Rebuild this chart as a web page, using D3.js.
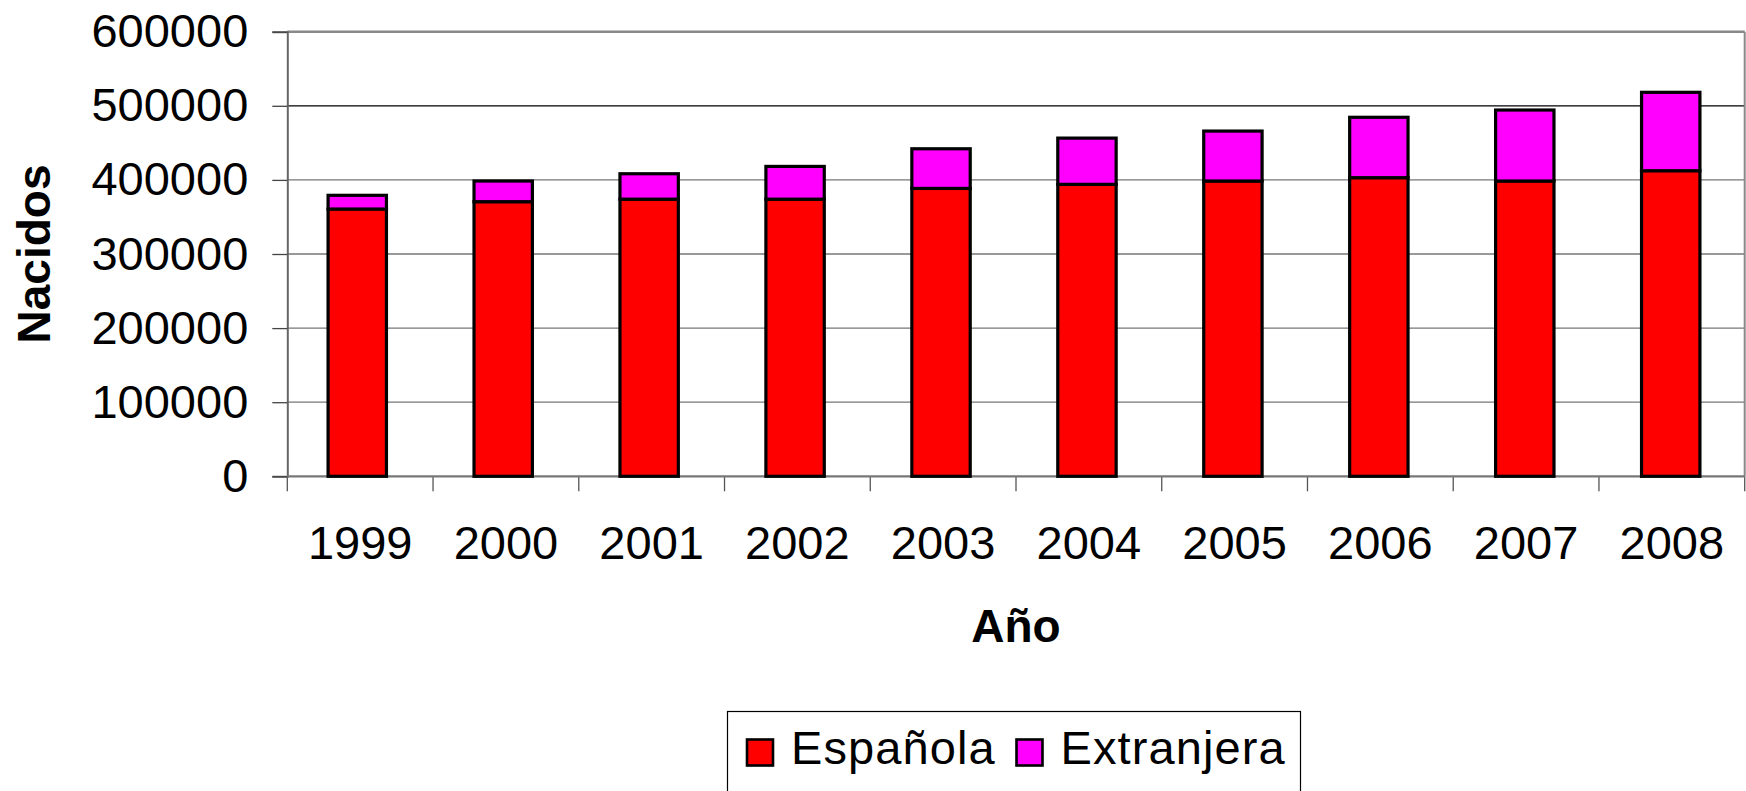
<!DOCTYPE html>
<html>
<head>
<meta charset="utf-8">
<script src="https://cdn.jsdelivr.net/npm/d3@7"></script>
<style>
  html, body { margin: 0; padding: 0; background: #fff; overflow: hidden; }
  text { font-family: "Liberation Sans", Arial, sans-serif; fill: #000; }
</style>
</head>
<body>
<svg id="chart" width="1746" height="791"></svg>
<script>
const categories = ["1999", "2000", "2001", "2002", "2003", "2004", "2005", "2006", "2007", "2008"];
const espanola   = [360700, 370600, 374000, 374000, 388500, 394000, 398500, 403000, 398500, 412400];
const extranjera = [18500, 27900, 34300, 44200, 53500, 62400, 67400, 81500, 95800, 105800];
const yTicks = [0, 100000, 200000, 300000, 400000, 500000, 600000];
const seriesNames = ["Española", "Extranjera"];
const seriesColors = ["#FF0000", "#FF00FF"];
const xTitle = "Año";
const yTitle = "Nacidos";

const svg = d3.select("#chart");
const L = 287.3, R = 1744.7, T = 31.7, B = 476.3;

const x = d3.scaleBand().domain(categories).range([L - 3, R - 1]).paddingInner(0.6).paddingOuter(0.3);
const y = d3.scaleLinear().domain([0, 600000]).range([B, T]);
const step = (R - L) / categories.length;

// gridlines
svg.append("g").selectAll("line").data(yTicks.filter(d => d > 0 && d < 600000)).join("line")
  .attr("x1", L).attr("x2", R)
  .attr("y1", d => y(d)).attr("y2", d => y(d))
  .attr("stroke", d => d === 500000 ? "#000" : "#777")
  .attr("stroke-width", 1.3);

// plot frame top & right
svg.append("line").attr("x1", L).attr("x2", R).attr("y1", T).attr("y2", T)
  .attr("stroke", "#888").attr("stroke-width", 2.5);
svg.append("line").attr("x1", R).attr("x2", R).attr("y1", T).attr("y2", B)
  .attr("stroke", "#888").attr("stroke-width", 2);

// Y axis
const yAxis = d3.axisLeft(y).tickValues(yTicks).tickFormat(d3.format("d")).tickSize(15).tickPadding(24);
const gy = svg.append("g").attr("transform", `translate(${L},0)`).call(yAxis);
gy.select(".domain").attr("stroke", "#666").attr("stroke-width", 2);
gy.selectAll(".tick line").attr("stroke", "#444").attr("stroke-width", 1.3);
gy.selectAll(".tick text").attr("font-size", 47).attr("font-family", "Liberation Sans, Arial, sans-serif").attr("fill", "#000");

// X axis with ticks at category boundaries
const bounds = d3.range(categories.length + 1).map(i => L + i * step);
svg.append("g").selectAll("line").data(bounds).join("line")
  .attr("x1", d => d).attr("x2", d => d).attr("y1", B).attr("y2", B + 15)
  .attr("stroke", "#555").attr("stroke-width", 1.3);
svg.append("line").attr("x1", L).attr("x2", R).attr("y1", B).attr("y2", B)
  .attr("stroke", "#777").attr("stroke-width", 2.2);
svg.append("g").selectAll("text").data(categories).join("text")
  .attr("x", (d, i) => L + (i + 0.5) * step)
  .attr("y", 559)
  .attr("text-anchor", "middle")
  .attr("font-size", 47)
  .text(d => d);

// stacked bars
const rows = categories.map((c, i) => ({ cat: c, esp: espanola[i], ext: extranjera[i] }));
const gb = svg.append("g");
gb.selectAll("rect.esp").data(rows).join("rect").attr("class", "esp")
  .attr("x", d => x(d.cat)).attr("width", x.bandwidth())
  .attr("y", d => y(d.esp)).attr("height", d => y(0) - y(d.esp))
  .attr("fill", seriesColors[0]).attr("stroke", "#000").attr("stroke-width", 3.2);
gb.selectAll("rect.ext").data(rows).join("rect").attr("class", "ext")
  .attr("x", d => x(d.cat)).attr("width", x.bandwidth())
  .attr("y", d => y(d.esp + d.ext)).attr("height", d => y(d.esp) - y(d.esp + d.ext))
  .attr("fill", seriesColors[1]).attr("stroke", "#000").attr("stroke-width", 3.2);

// axis titles
svg.append("text").attr("x", (L + R) / 2).attr("y", 642)
  .attr("text-anchor", "middle").attr("font-size", 46).attr("font-weight", "bold").text(xTitle);
svg.append("text").attr("transform", `translate(50,${(T + B) / 2}) rotate(-90)`)
  .attr("text-anchor", "middle").attr("font-size", 46).attr("font-weight", "bold").text(yTitle);

// legend
const lg = svg.append("g");
lg.append("rect").attr("x", 727.5).attr("y", 711.5).attr("width", 573).attr("height", 100)
  .attr("fill", "#fff").attr("stroke", "#000").attr("stroke-width", 1.2);
const legX = [746, 1015.5];
seriesNames.forEach((n, i) => {
  lg.append("rect").attr("x", legX[i] + 1).attr("y", 739.5).attr("width", 26).attr("height", 26)
    .attr("fill", seriesColors[i]).attr("stroke", "#000").attr("stroke-width", 2.6);
  lg.append("text").attr("x", legX[i] + 45).attr("y", 764).attr("font-size", 47)
    .attr("letter-spacing", 1.1).text(n);
});
</script>
</body>
</html>
